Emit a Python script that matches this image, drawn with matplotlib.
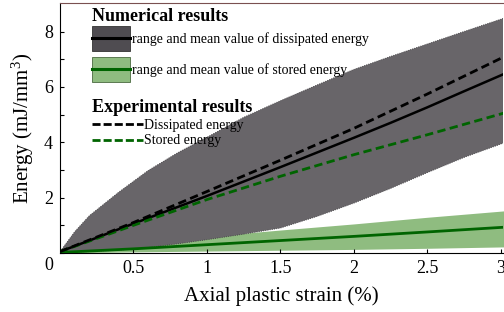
import matplotlib
matplotlib.use("Agg")
import matplotlib.pyplot as plt
from matplotlib.patches import Patch, Rectangle
from matplotlib.lines import Line2D
from matplotlib.legend_handler import HandlerBase
import matplotlib.transforms as mtransforms

plt.rcParams['font.family'] = ['Liberation Serif', 'DejaVu Serif']
plt.rcParams['mathtext.fontset'] = 'custom'
plt.rcParams['mathtext.rm'] = 'Liberation Serif'
plt.rcParams['mathtext.it'] = 'Liberation Serif:italic'
plt.rcParams['mathtext.bf'] = 'Liberation Serif:bold'

# ---- data ----
strain_band = [0, 0.1, 0.2, 0.4, 0.6, 0.8, 1.0, 1.25, 1.5, 1.75, 2.0, 2.25, 2.5, 2.75, 3.02]
dis_upper = [0.05, 0.77, 1.35, 2.2, 2.98, 3.62, 4.18, 4.9, 5.5, 6.07, 6.63, 7.1, 7.55, 8.0, 8.48]
dis_lower = [0.02, 0.03, 0.05, 0.1, 0.2, 0.33, 0.48, 0.68, 0.9, 1.32, 1.8, 2.33, 2.9, 3.45, 3.97]
dis_mean = [0.05, 0.25, 0.45, 0.86, 1.26, 1.66, 2.06, 2.58, 3.1, 3.63, 4.16, 4.7, 5.26, 5.84, 6.46]

strain = [0, 0.5, 1.0, 1.5, 2.0, 2.5, 3.02]
sto_upper = [0.05, 0.36, 0.6, 0.83, 1.05, 1.29, 1.52]
sto_mean = [0.02, 0.15, 0.3, 0.45, 0.6, 0.76, 0.93]
sto_lower = [0.0, 0.04, 0.07, 0.1, 0.13, 0.17, 0.22]
exp_dis = [0.05, 1.1, 2.22, 3.35, 4.5, 5.74, 7.08]
exp_sto = [0.05, 1.0, 1.93, 2.77, 3.55, 4.27, 5.05]

xticks = [0.5, 1, 1.5, 2, 2.5, 3]
xticklabels = ['0.5', '1', '1.5', '2', '2.5', '3']
yticks = [0, 2, 4, 6, 8]
yticklabels = ['', '2', '4', '6', '8']

grey = '#686569'
green_fill = '#8fbc80'
green_line = '#006400'


class BandHandler(HandlerBase):
    """Filled rectangle (fixed size around the text) with a mean line."""

    def __init__(self, line_color, bottom=-5.7, top=12.3):
        super().__init__()
        self.line_color = line_color
        self.bottom = bottom
        self.top = top

    def legend_artist(self, legend, orig_handle, fontsize, handlebox):
        x0 = -handlebox.xdescent
        w = handlebox.width
        rect = Rectangle((x0, self.bottom), w, self.top - self.bottom,
                         facecolor=orig_handle.get_facecolor(),
                         edgecolor=orig_handle.get_edgecolor(), lw=0.6,
                         transform=handlebox.get_transform())
        ymid = 0.5 * (self.bottom + self.top)
        line = Line2D([x0, x0 + w], [ymid, ymid], color=self.line_color, lw=2.2,
                      transform=handlebox.get_transform())
        handlebox.add_artist(rect)
        handlebox.add_artist(line)
        return rect


fig = plt.figure(figsize=(5.04, 3.12), dpi=100)
ax = fig.add_axes([60/504, 59/312, 443/504, 250/312])

ax.fill_between(strain, sto_lower, sto_upper, color=green_fill, lw=0, zorder=1)
ax.fill_between(strain_band, dis_lower, dis_upper, facecolor=grey, edgecolor='#3a383b',
                lw=0.6, ls=':', zorder=2)
ax.plot(strain, sto_mean, color=green_line, lw=2.0, zorder=3)
ax.plot(strain_band, dis_mean, color='black', lw=1.8, zorder=3)
ax.plot(strain, exp_sto, color=green_line, lw=2.0, dashes=(3, 1.6), zorder=4)
ax.plot(strain, exp_dis, color='black', lw=2.0, dashes=(3, 1.6), zorder=5)

ax.set_xlim(0, 3.016)
ax.set_ylim(0, 9.03)
ax.set_xticks(xticks)
ax.set_xticklabels(xticklabels)
ax.set_yticks(yticks)
ax.set_yticklabels(yticklabels)
ax.set_yticks([1, 3, 5, 7], minor=True)
ax.tick_params(which='both', direction='in', length=3, width=0.8, labelsize=13, pad=5)
ax.spines['top'].set_color('#7a5050')
ax.spines['right'].set_visible(False)

# origin label
off = mtransforms.offset_copy(ax.transData, fig=fig, x=-5, y=-3, units='points')
ax.text(0, 0, '0', transform=off, ha='right', va='top', fontsize=13)

ax.set_xlabel('Axial plastic strain (%)', fontsize=15, labelpad=7)
ax.set_ylabel(r'Energy (mJ/mm$^3$)', fontsize=15, labelpad=6)

# legend 1: numerical results
p1 = Patch(facecolor='#4f4c51', edgecolor='#333333')
p2 = Patch(facecolor=green_fill, edgecolor='#4a6a40')
leg1 = ax.legend([p1, p2],
                 ['range and mean value of dissipated energy',
                  'range and mean value of stored energy'],
                 handler_map={p1: BandHandler('black'), p2: BandHandler(green_line)},
                 loc='upper left', bbox_to_anchor=(0.068, 0.986), frameon=False,
                 fontsize=10, handlelength=2.8, handleheight=3.357,
                 handletextpad=0.1, labelspacing=-0.197, borderpad=0.1,
                 borderaxespad=0, title='Numerical results',
                 title_fontproperties={'weight': 'bold', 'size': 13},
                 alignment='left')
ax.add_artist(leg1)

h3 = Line2D([], [], color='black', lw=2.0, dashes=(2.9, 1.1))
h4 = Line2D([], [], color=green_line, lw=2.0, dashes=(2.9, 1.1))
leg2 = ax.legend([h3, h4], ['Dissipated energy', 'Stored energy'],
                 loc='upper left', bbox_to_anchor=(0.068, 0.622), frameon=False,
                 fontsize=10, handlelength=3.7, handleheight=0.7,
                 handletextpad=0.1, labelspacing=0.2, borderpad=0.1,
                 borderaxespad=0, title='Experimental results',
                 title_fontproperties={'weight': 'bold', 'size': 13},
                 alignment='left')

fig.savefig('out.png', dpi=100)
